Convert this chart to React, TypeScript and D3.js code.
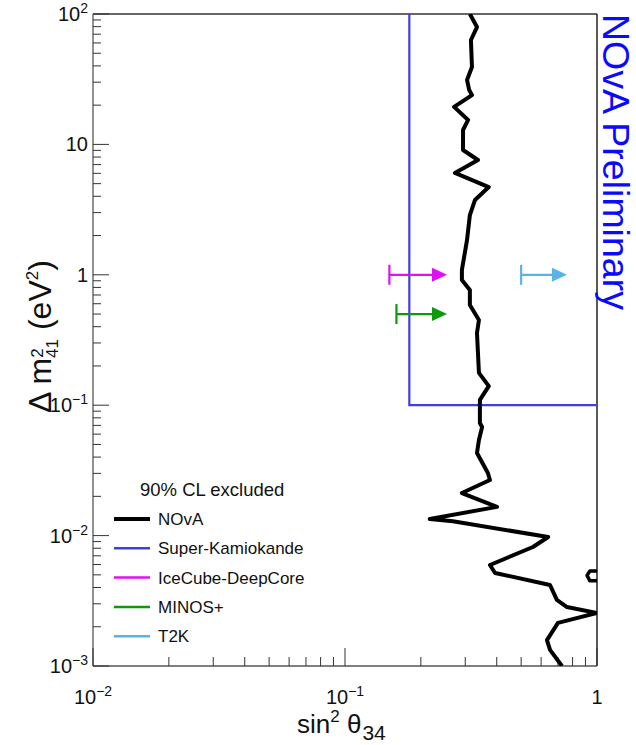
import React from "react";
import * as d3 from "d3";

// NOvA 90% CL contour
const novaSin2 = [
  0.313, 0.334, 0.316, 0.319, 0.305, 0.311, 0.319, 0.271, 0.308, 0.294, 0.294,
  0.337, 0.273, 0.372, 0.328, 0.313, 0.305, 0.291, 0.291, 0.313, 0.313, 0.34,
  0.334, 0.34, 0.372, 0.343, 0.343, 0.35, 0.34, 0.334, 0.369, 0.376, 0.291,
  0.401, 0.217, 0.268, 0.64, 0.557, 0.376, 0.394, 0.651, 0.693, 0.76, 1.0,
  0.7, 0.633, 0.651, 0.726,
];
const novaDm2 = [
  100, 79.4, 63.2, 39.2, 31.2, 26.1, 23.9, 19.4, 15.4, 12.9, 9.06, 7.59, 6.04,
  4.71, 3.75, 2.87, 1.85, 1.09, 0.912, 0.764, 0.586, 0.45, 0.358, 0.177, 0.14,
  0.11, 0.0731, 0.0681, 0.0541, 0.043, 0.0302, 0.0267, 0.0212, 0.0166, 0.0134,
  0.0129, 0.00975, 0.00818, 0.00595, 0.00517, 0.00418, 0.00321, 0.00283,
  0.00255, 0.00214, 0.00158, 0.00133, 0.001,
];
// small island near the right edge
const islandSin2 = [1.0, 0.937, 0.913, 0.937, 1.0];
const islandDm2 = [0.00535, 0.00535, 0.00495, 0.0045, 0.0045];

const skSin2 = [0.18, 0.18, 1];
const skDm2 = [100, 0.1, 0.1];

const limitNames = ["IceCube-DeepCore", "MINOS+", "T2K"];
const limitStart = [0.15, 0.16, 0.5];
const limitEnd = [0.254, 0.254, 0.76];
const limitDm2 = [1, 0.5, 1];
const limitColors = ["#e010f5", "#0c990c", "#5ab2e6"];

const legendNames = ["NOvA", "Super-Kamiokande", "IceCube-DeepCore", "MINOS+", "T2K"];
const legendColors = ["#000000", "#4040d8", "#e010f5", "#0c990c", "#5ab2e6"];
const legendWidths = [4, 2.5, 2.5, 2.5, 2.5];

const yDecades = [100, 10, 1, 0.1, 0.01, 0.001];
const yDecadeLabels: [string, string][] = [
  ["10", "2"], ["10", ""], ["1", ""], ["10", "\u22121"], ["10", "\u22122"], ["10", "\u22123"],
];
const xDecades = [0.01, 0.1, 1];
const xDecadeLabels: [string, string][] = [["10", "\u22122"], ["10", "\u22121"], ["1", ""]];

const W = 636;
const H = 745;
const left = 93, right = 597, top = 14, bottom = 666;
const font = "'Liberation Sans', Arial, Helvetica, sans-serif";

export default function App() {
  const x = d3.scaleLog().domain([0.01, 1]).range([left, right]);
  const y = d3.scaleLog().domain([0.001, 100]).range([bottom, top]);

  const line = d3
    .line<[number, number]>()
    .x((d) => x(d[0]))
    .y((d) => y(d[1]));

  const nova = line(novaSin2.map((s, i) => [s, novaDm2[i]]));
  const island = line(islandSin2.map((s, i) => [s, islandDm2[i]]));
  const sk = line(skSin2.map((s, i) => [s, skDm2[i]]));

  const xTicks = x.ticks();
  const yTicks = y.ticks();
  const isDecade = (v: number) => Math.abs(Math.log10(v) - Math.round(Math.log10(v))) < 1e-6;

  return (
    <svg
      width={W}
      height={H}
      style={{ position: "absolute", left: 0, top: 0, background: "#fff" }}
      fontFamily={font}
    >
      <defs>
        <clipPath id="plot">
          <rect x={left} y={top} width={right - left} height={bottom - top} />
        </clipPath>
      </defs>

      {/* frame */}
      <line x1={left} y1={top} x2={right} y2={top} stroke="#333" strokeWidth={1.3} />
      <line x1={right} y1={top} x2={right} y2={bottom} stroke="#000" strokeWidth={1.3} />
      <line x1={left} y1={top} x2={left} y2={bottom} stroke="#555" strokeWidth={1.3} />
      <line x1={left} y1={bottom} x2={right} y2={bottom} stroke="#555" strokeWidth={1.3} />

      {/* y ticks */}
      {yTicks.map((t, i) => (
        <line
          key={"yt" + i}
          x1={left}
          x2={left + (isDecade(t) ? 16 : 8)}
          y1={y(t)}
          y2={y(t)}
          stroke="#333"
          strokeWidth={1}
        />
      ))}
      {/* x ticks */}
      {xTicks.map((t, i) => (
        <line
          key={"xt" + i}
          x1={x(t)}
          x2={x(t)}
          y1={bottom}
          y2={bottom - (isDecade(t) ? 18 : 9)}
          stroke="#333"
          strokeWidth={1}
        />
      ))}

      {/* y tick labels */}
      {yDecades.map((v, i) => (
        <text key={"yl" + i} x={88} y={y(v) + 7} textAnchor="end" fontSize={20} fill="#111">
          {yDecadeLabels[i][0]}
          {yDecadeLabels[i][1] && (
            <tspan fontSize={14} dy={-8}>
              {yDecadeLabels[i][1]}
            </tspan>
          )}
        </text>
      ))}
      {/* x tick labels */}
      {xDecades.map((v, i) => (
        <text key={"xl" + i} x={x(v)} y={704} textAnchor="middle" fontSize={20} fill="#111">
          {xDecadeLabels[i][0]}
          {xDecadeLabels[i][1] && (
            <tspan fontSize={14} dy={-8}>
              {xDecadeLabels[i][1]}
            </tspan>
          )}
        </text>
      ))}

      {/* axis titles */}
      <text x={297} y={733} fontSize={26} fill="#111">
        sin
        <tspan fontSize={17} dy={-11}>2</tspan>
        <tspan dy={11}> θ</tspan>
        <tspan fontSize={21} dx={1} dy={7}>34</tspan>
      </text>
      <text transform="translate(51,413) rotate(-90)" fontSize={32} fill="#111">
        Δ m
        <tspan fontSize={17} dy={-8}>2</tspan>
        <tspan fontSize={17} dx={-9.5} dy={15}>41</tspan>
        <tspan dy={-7}> (eV</tspan>
        <tspan fontSize={17} dy={-13}>2</tspan>
        <tspan dy={13}>)</tspan>
      </text>

      {/* NOvA Preliminary */}
      <text transform="translate(603,14) rotate(90)" fontSize={37.5} fill="#0a0aff">
        NOvA Preliminary
      </text>

      <g clipPath="url(#plot)">
        {/* Super-K */}
        <path d={sk ?? ""} fill="none" stroke="#4040d8" strokeWidth={2.2} />

        {/* NOvA */}
        <path d={nova ?? ""} fill="none" stroke="#000" strokeWidth={4} strokeLinejoin="round" />
        <path d={island ?? ""} fill="none" stroke="#000" strokeWidth={3.5} strokeLinejoin="round" />
      </g>

      {/* one-sided limits */}
      {limitNames.map((n, i) => {
        const x0 = x(limitStart[i]);
        const x1 = x(limitEnd[i]);
        const yy = y(limitDm2[i]);
        const c = limitColors[i];
        return (
          <g key={n}>
            <line x1={x0} x2={x0} y1={yy - 10} y2={yy + 10} stroke={c} strokeWidth={2.2} />
            <line x1={x0} x2={x1 - 12} y1={yy} y2={yy} stroke={c} strokeWidth={2.2} />
            <path d={`M${x1},${yy} L${x1 - 15},${yy - 7} L${x1 - 15},${yy + 7} Z`} fill={c} />
          </g>
        );
      })}

      {/* legend */}
      <text x={140} y={496} fontSize={18.5} fill="#111">
        90% CL excluded
      </text>
      {legendNames.map((n, i) => {
        const yy = 519 + i * 29.3;
        return (
          <g key={"lg" + i}>
            <line
              x1={114}
              x2={150}
              y1={yy}
              y2={yy}
              stroke={legendColors[i]}
              strokeWidth={legendWidths[i]}
            />
            <text x={158} y={yy + 6} fontSize={17} fill="#111">
              {n}
            </text>
          </g>
        );
      })}
    </svg>
  );
}
